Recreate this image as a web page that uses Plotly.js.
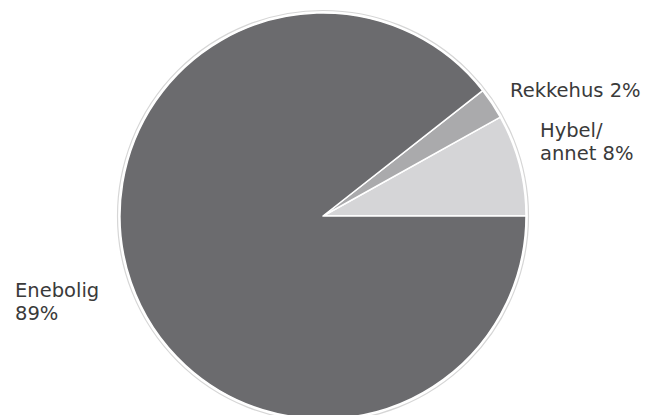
<!DOCTYPE html>
<html>
<head>
<meta charset="utf-8">
<script src="https://cdn.plot.ly/plotly-3.0.1.min.js"></script>
<style>
html,body{margin:0;padding:0;overflow:hidden;background:#fff;}
#chart{width:658px;height:430px;}
</style>
</head>
<body>
<div id="chart"></div>
<script>
// Data
const labels = ["Hybel/annet", "Rekkehus", "Enebolig"];
const values = [8.1, 2.5, 89.4];          // slice sizes (angles measured)
const printedPct = ["8%", "2%", "89%"];    // percentages as printed
const colors = ["#d5d5d7", "#aaaaac", "#6b6b6e"];

const W = 658, H = 430;
const cx = 323, cy = 216, r = 203;

const trace = {
  type: "pie",
  labels: labels,
  values: values,
  sort: false,
  direction: "counterclockwise",
  rotation: 60.84,
  textinfo: "none",
  hoverinfo: "label+percent",
  marker: { colors: colors, line: { color: "#ffffff", width: 1.5 } },
  domain: { x: [(cx - r) / W, (cx + r) / W], y: [(H - (cy + r)) / H, (H - (cy - r)) / H] },
  showlegend: false
};

const font = { family: "DejaVu Sans, Verdana, sans-serif", size: 19.5, color: "#3a3a3a" };
function ann(text, px, pyMid) {
  return { text: text, x: px / W, y: 1 - pyMid / H, xref: "paper", yref: "paper",
    xanchor: "left", yanchor: "middle", align: "left", showarrow: false, font: font, borderpad: 0 };
}
const annotations = [
  ann(labels[1] + " " + printedPct[1], 509, 90),
  ann("Hybel/", 539, 131),
  ann("annet " + printedPct[0], 539, 153),
  ann(labels[2], 14, 290),
  ann(printedPct[2], 14, 313)
];

const layout = {
  width: W, height: H,
  margin: { l: 0, r: 0, t: 0, b: 0 },
  paper_bgcolor: "#ffffff",
  plot_bgcolor: "#ffffff",
  annotations: annotations,
  shapes: [{
    type: "circle", xref: "paper", yref: "paper",
    x0: (cx - r - 2.5) / W, x1: (cx + r + 2.5) / W,
    y0: 1 - (cy + r + 2.5) / H, y1: 1 - (cy - r - 2.5) / H,
    line: { color: "#d6d6d6", width: 1.2 }, layer: "below"
  }]
};

Plotly.newPlot("chart", [trace], layout, { displayModeBar: false, staticPlot: true });
</script>
</body>
</html>
